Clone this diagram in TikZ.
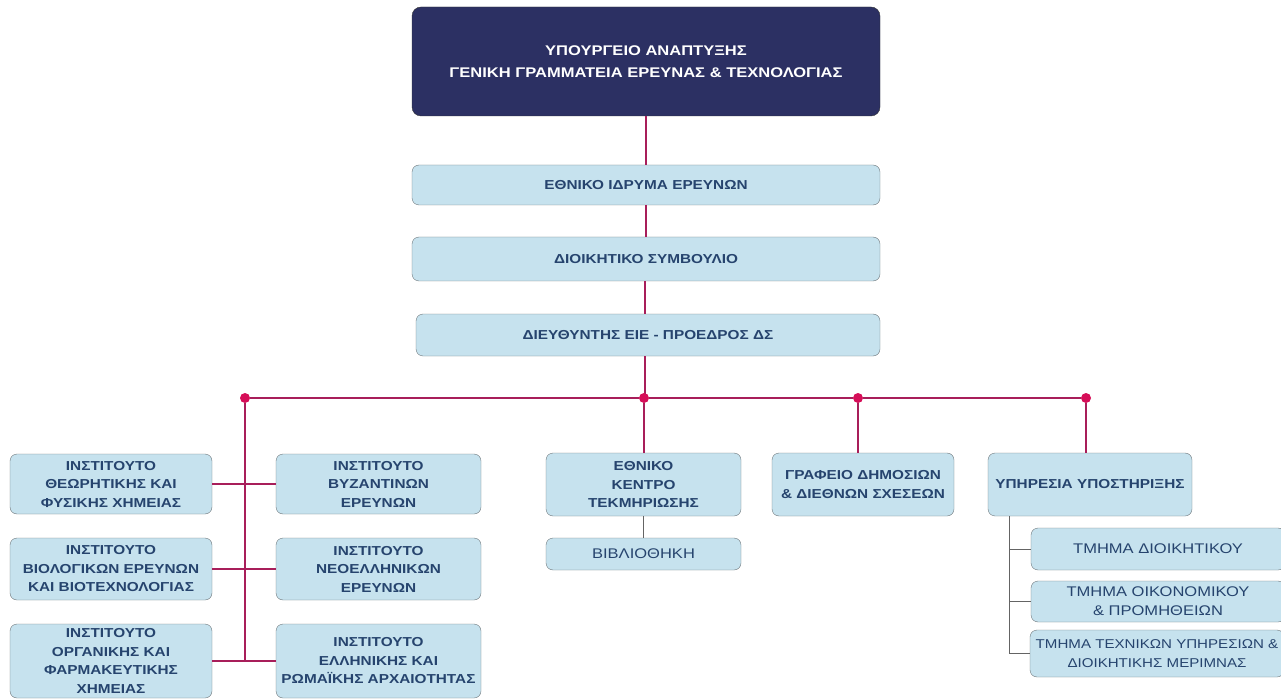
\documentclass[tikz,border=0pt]{standalone}
\usepackage{fontspec}
\setmainfont{Liberation Sans}[FakeStretch=1.18]
\usepackage{tikz}
\usetikzlibrary{positioning, calc}
\definecolor{boxfill}{RGB}{198,226,238}
\definecolor{boxline}{RGB}{110,118,122}
\definecolor{topfill}{RGB}{44,48,99}
\definecolor{txt}{RGB}{38,68,110}
\definecolor{busline}{RGB}{168,30,90}
\definecolor{busdot}{RGB}{214,14,88}
\definecolor{subline}{RGB}{100,100,100}

\begin{document}
\begin{tikzpicture}[x=1pt,y=-1pt,
    unit/.style={draw=boxline, fill=boxfill, rounded corners=7pt, text=txt, align=center,
        inner sep=0pt, font=\bfseries\fontsize{13}{18.5}\selectfont},
    subunit/.style={unit, font=\fontsize{14}{19}\selectfont},
    link/.style={busline, line width=1.2pt},
    sublink/.style={subline, line width=1pt},
    dot/.style={circle, fill=busdot, inner sep=0pt, minimum size=10pt}]
    \useasboundingbox (0,0) rectangle (1281,700);
    % top of the hierarchy
    \node[draw=black!80, fill=topfill, rounded corners=9pt, text=white, align=center,
        font=\bfseries\fontsize{14}{22}\selectfont, minimum width=468pt, minimum height=109pt]
        (ministry) at (646,61.5) {ΥΠΟΥΡΓΕΙΟ ΑΝΑΠΤΥΞΗΣ\\ΓΕΝΙΚΗ ΓΡΑΜΜΑΤΕΙΑ ΕΡΕΥΝΑΣ \& ΤΕΧΝΟΛΟΓΙΑΣ};
    \node[unit, minimum width=468pt, minimum height=40pt] (eie) at (646,185) {ΕΘΝΙΚΟ ΙΔΡΥΜΑ ΕΡΕΥΝΩΝ};
    \node[unit, minimum width=468pt, minimum height=44pt] (board) at (646,259) {ΔΙΟΙΚΗΤΙΚΟ ΣΥΜΒΟΥΛΙΟ};
    \node[unit, minimum width=464pt, minimum height=42pt] (director) at (648,335) {ΔΙΕΥΘΥΝΤΗΣ ΕΙΕ - ΠΡΟΕΔΡΟΣ ΔΣ};

    % institutes
    \node[unit, minimum width=202pt, minimum height=60pt] (inst1) at (111,484) {ΙΝΣΤΙΤΟΥΤΟ\\ΘΕΩΡΗΤΙΚΗΣ ΚΑΙ\\ΦΥΣΙΚΗΣ ΧΗΜΕΙΑΣ};
    \node[unit, minimum width=202pt, minimum height=62pt] (inst2) at (111,569) {ΙΝΣΤΙΤΟΥΤΟ\\ΒΙΟΛΟΓΙΚΩΝ ΕΡΕΥΝΩΝ\\ΚΑΙ ΒΙΟΤΕΧΝΟΛΟΓΙΑΣ};
    \node[unit, minimum width=202pt, minimum height=74pt] (inst3) at (111,661) {ΙΝΣΤΙΤΟΥΤΟ\\ΟΡΓΑΝΙΚΗΣ ΚΑΙ\\ΦΑΡΜΑΚΕΥΤΙΚΗΣ\\ΧΗΜΕΙΑΣ};
    \node[unit, minimum width=205pt, minimum height=60pt] (inst4) at (378.5,484) {ΙΝΣΤΙΤΟΥΤΟ\\ΒΥΖΑΝΤΙΝΩΝ\\ΕΡΕΥΝΩΝ};
    \node[unit, minimum width=205pt, minimum height=62pt] (inst5) at (378.5,569) {ΙΝΣΤΙΤΟΥΤΟ\\ΝΕΟΕΛΛΗΝΙΚΩΝ\\ΕΡΕΥΝΩΝ};
    \node[unit, minimum width=205pt, minimum height=74pt] (inst6) at (378.5,661) {ΙΝΣΤΙΤΟΥΤΟ\\ΕΛΛΗΝΙΚΗΣ ΚΑΙ\\ΡΩΜΑΪΚΗΣ ΑΡΧΑΙΟΤΗΤΑΣ};

    % other units
    \node[unit, minimum width=195pt, minimum height=63pt] (ekt) at (643.5,484.5) {ΕΘΝΙΚΟ\\ΚΕΝΤΡΟ\\ΤΕΚΜΗΡΙΩΣΗΣ};
    \node[subunit, minimum width=195pt, minimum height=32pt] (library) at (643.5,554) {ΒΙΒΛΙΟΘΗΚΗ};
    \node[unit, minimum width=182pt, minimum height=63pt] (office) at (863,484.5) {ΓΡΑΦΕΙΟ ΔΗΜΟΣΙΩΝ\\\& ΔΙΕΘΝΩΝ ΣΧΕΣΕΩΝ};
    \node[unit, minimum width=204pt, minimum height=63pt] (support) at (1090,484.5) {ΥΠΗΡΕΣΙΑ ΥΠΟΣΤΗΡΙΞΗΣ};
    \node[subunit, minimum width=254pt, minimum height=42pt] (dept1) at (1158,549) {ΤΜΗΜΑ ΔΙΟΙΚΗΤΙΚΟΥ};
    \node[subunit, minimum width=254pt, minimum height=41pt] (dept2) at (1158,601.5) {ΤΜΗΜΑ ΟΙΚΟΝΟΜΙΚΟΥ\\\& ΠΡΟΜΗΘΕΙΩΝ};
    \node[subunit, font=\fontsize{12.8}{19}\selectfont, minimum width=254pt, minimum height=47pt]
        (dept3) at (1157,653.5) {ΤΜΗΜΑ ΤΕΧΝΙΚΩΝ ΥΠΗΡΕΣΙΩΝ \&\\ΔΙΟΙΚΗΤΙΚΗΣ ΜΕΡΙΜΝΑΣ};

    % main line and bus
    \coordinate (busmid) at (645,398);
    \draw[link] (ministry) -- (eie);
    \draw[link] (eie) -- (board);
    \draw[link] (board.south -| busmid) -- (busmid |- director.north);
    \draw[link] (director.south -| busmid) -- (busmid);
    \node[dot] (dotA) at (245,398) {};
    \node[dot] (dotB) at (644,398) {};
    \node[dot] (dotC) at (858,398) {};
    \node[dot] (dotD) at (1086,398) {};
    \draw[link] (dotA) -- (dotB) -- (dotC) -- (dotD);
    \draw[link] (dotA) -- (dotA |- inst3.east);
    \foreach \i/\j in {inst1/inst4, inst2/inst5, inst3/inst6}
        \draw[link] (\i.east) -- (\j.west);
    \draw[link] (dotB) -- (dotB |- ekt.north);
    \draw[link] (dotC) -- (dotC |- office.north);
    \draw[link] (dotD) -- (dotD |- support.north);

    % sub units
    \draw[sublink] (ekt) -- (library);
    \coordinate (supfork) at ([xshift=22pt]support.south west);
    \foreach \d in {dept1, dept2, dept3}
        \draw[sublink] (supfork) |- (\d.west);
\end{tikzpicture}
\end{document}
